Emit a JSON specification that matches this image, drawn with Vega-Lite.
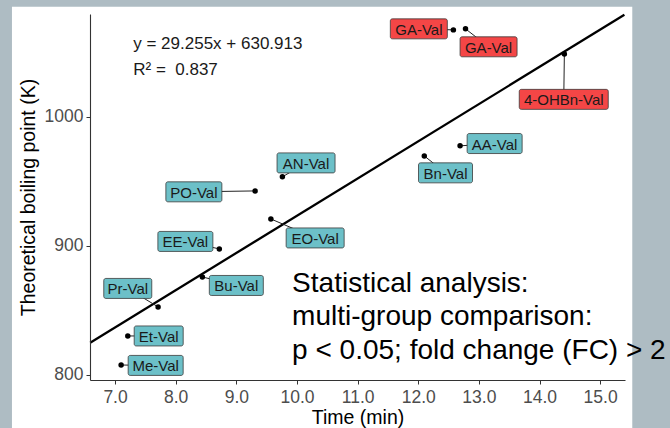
{
  "$schema": "https://vega.github.io/schema/vega-lite/v6.json",
  "width": 535,
  "height": 366,
  "autosize": {"type": "none"},
  "padding": {"left": 90, "top": 14, "right": 45, "bottom": 48},
  "background": "#aebcc3",
  "config": {
    "font": "Liberation Sans",
    "view": {"stroke": null},
    "axis": {
      "grid": false,
      "domainColor": "#333333",
      "domainWidth": 1.1,
      "tickColor": "#333333",
      "tickSize": 4,
      "labelColor": "#4d4d4d",
      "labelFontSize": 17.5,
      "labelFont": "Liberation Sans",
      "titleFont": "Liberation Sans",
      "titleFontSize": 19.5,
      "titleFontWeight": "normal",
      "titleColor": "#000000"
    }
  },
  "data": {
    "values": [
      {"label": "GA-Val", "highlight": "yes", "x": 12.58, "y": 1067.2, "lx": 12.01, "ly": 1068.0},
      {"label": "GA-Val", "highlight": "yes", "x": 12.78, "y": 1068.0, "lx": 13.16, "ly": 1054.1},
      {"label": "4-OHBn-Val", "highlight": "yes", "x": 14.41, "y": 1048.6, "lx": 14.40, "ly": 1013.4},
      {"label": "AA-Val", "highlight": "no", "x": 12.69, "y": 977.4, "lx": 13.26, "ly": 979.2},
      {"label": "Bn-Val", "highlight": "no", "x": 12.10, "y": 969.6, "lx": 12.45, "ly": 956.5},
      {"label": "AN-Val", "highlight": "no", "x": 9.76, "y": 953.4, "lx": 10.15, "ly": 964.2},
      {"label": "PO-Val", "highlight": "no", "x": 9.31, "y": 942.5, "lx": 8.30, "ly": 941.8},
      {"label": "EO-Val", "highlight": "no", "x": 9.57, "y": 920.8, "lx": 10.30, "ly": 906.1},
      {"label": "EE-Val", "highlight": "no", "x": 8.72, "y": 897.6, "lx": 8.16, "ly": 903.4},
      {"label": "Bu-Val", "highlight": "no", "x": 8.44, "y": 875.9, "lx": 9.00, "ly": 869.3},
      {"label": "Pr-Val", "highlight": "no", "x": 7.71, "y": 852.7, "lx": 7.21, "ly": 867.0},
      {"label": "Et-Val", "highlight": "no", "x": 7.21, "y": 830.2, "lx": 7.72, "ly": 830.2},
      {"label": "Me-Val", "highlight": "no", "x": 7.10, "y": 807.7, "lx": 7.67, "ly": 807.4}
    ]
  },
  "layer": [
    {
      "data": {"values": [{}]},
      "mark": {"type": "rect", "fill": "#ffffff"},
      "encoding": {
        "x": {"datum": 5.30, "type": "quantitative", "scale": {"domain": [6.587, 15.41], "nice": false, "zero": false}},
        "x2": {"datum": 15.53},
        "y": {"datum": 1085.1, "type": "quantitative", "scale": {"domain": [796.1, 1079.5], "nice": false, "zero": false}},
        "y2": {"datum": 758.9}
      }
    },
    {
      "data": {"values": [{"x": 6.59, "y": 825.0}, {"x": 15.40, "y": 1078.9}]},
      "mark": {"type": "line", "color": "#000000", "strokeWidth": 2.3},
      "encoding": {
        "x": {"field": "x", "type": "quantitative", "scale": {"domain": [6.587, 15.41], "nice": false, "zero": false},
          "axis": {"zindex": 2, "values": [7, 8, 9, 10, 11, 12, 13, 14, 15], "format": ".1f", "title": "Time (min)", "labelPadding": 4, "titlePadding": 3}},
        "y": {"field": "y", "type": "quantitative", "scale": {"domain": [796.1, 1079.5], "nice": false, "zero": false},
          "axis": {"zindex": 2, "values": [800, 900, 1000], "format": "d", "title": "Theoretical boiling point (K)", "labelPadding": 3, "titlePadding": 6}}
      }
    },
    {
      "mark": {"type": "rule", "color": "#222222", "strokeWidth": 1},
      "encoding": {
        "x": {"field": "x", "type": "quantitative"},
        "y": {"field": "y", "type": "quantitative"},
        "x2": {"field": "lx"},
        "y2": {"field": "ly"}
      }
    },
    {
      "mark": {"type": "point", "filled": true, "color": "#000000", "opacity": 1, "size": 30},
      "encoding": {
        "x": {"field": "x", "type": "quantitative"},
        "y": {"field": "y", "type": "quantitative"}
      }
    },
    {
      "mark": {"type": "point", "filled": true, "opacity": 1, "size": 4, "stroke": "#3a3a3a", "strokeWidth": 0.8},
      "encoding": {
        "x": {"field": "lx", "type": "quantitative"},
        "y": {"field": "ly", "type": "quantitative"},
        "color": {"field": "highlight", "type": "nominal", "scale": {"domain": ["yes", "no"], "range": ["#f44646", "#6cc0c8"]}, "legend": null},
        "shape": {"field": "label", "type": "nominal", "legend": null,
          "scale": {
            "domain": ["GA-Val", "4-OHBn-Val", "AA-Val", "Bn-Val", "AN-Val", "PO-Val", "EO-Val", "EE-Val", "Bu-Val", "Pr-Val", "Et-Val", "Me-Val"],
            "range": [
              "M-26.5,-10H26.5A2,2,0,0,1,28.5,-8V8A2,2,0,0,1,26.5,10H-26.5A2,2,0,0,1,-28.5,8V-8A2,2,0,0,1,-26.5,-10Z",
              "M-42.5,-10H42.5A2,2,0,0,1,44.5,-8V8A2,2,0,0,1,42.5,10H-42.5A2,2,0,0,1,-44.5,8V-8A2,2,0,0,1,-42.5,-10Z",
              "M-25.5,-10H25.5A2,2,0,0,1,27.5,-8V8A2,2,0,0,1,25.5,10H-25.5A2,2,0,0,1,-27.5,8V-8A2,2,0,0,1,-25.5,-10Z",
              "M-25,-10H25A2,2,0,0,1,27,-8V8A2,2,0,0,1,25,10H-25A2,2,0,0,1,-27,8V-8A2,2,0,0,1,-25,-10Z",
              "M-27,-10H27A2,2,0,0,1,29,-8V8A2,2,0,0,1,27,10H-27A2,2,0,0,1,-29,8V-8A2,2,0,0,1,-27,-10Z",
              "M-26,-10H26A2,2,0,0,1,28,-8V8A2,2,0,0,1,26,10H-26A2,2,0,0,1,-28,8V-8A2,2,0,0,1,-26,-10Z",
              "M-27,-10H27A2,2,0,0,1,29,-8V8A2,2,0,0,1,27,10H-27A2,2,0,0,1,-29,8V-8A2,2,0,0,1,-27,-10Z",
              "M-25.5,-10H25.5A2,2,0,0,1,27.5,-8V8A2,2,0,0,1,25.5,10H-25.5A2,2,0,0,1,-27.5,8V-8A2,2,0,0,1,-25.5,-10Z",
              "M-25,-10H25A2,2,0,0,1,27,-8V8A2,2,0,0,1,25,10H-25A2,2,0,0,1,-27,8V-8A2,2,0,0,1,-25,-10Z",
              "M-22,-10H22A2,2,0,0,1,24,-8V8A2,2,0,0,1,22,10H-22A2,2,0,0,1,-24,8V-8A2,2,0,0,1,-22,-10Z",
              "M-22.5,-10H22.5A2,2,0,0,1,24.5,-8V8A2,2,0,0,1,22.5,10H-22.5A2,2,0,0,1,-24.5,8V-8A2,2,0,0,1,-22.5,-10Z",
              "M-25.5,-10H25.5A2,2,0,0,1,27.5,-8V8A2,2,0,0,1,25.5,10H-25.5A2,2,0,0,1,-27.5,8V-8A2,2,0,0,1,-25.5,-10Z"
            ]
          }
        }
      }
    },
    {
      "mark": {"type": "text", "fontSize": 15, "color": "#1a1a1a", "align": "center", "baseline": "middle", "dy": 1},
      "encoding": {
        "x": {"field": "lx", "type": "quantitative"},
        "y": {"field": "ly", "type": "quantitative"},
        "text": {"field": "label", "type": "nominal"}
      }
    },
    {
      "data": {"values": [{}]},
      "mark": {"type": "text", "fontSize": 17, "color": "#1a1a1a", "align": "left", "baseline": "alphabetic", "lineHeight": 25.5},
      "encoding": {
        "x": {"datum": 7.30, "type": "quantitative"},
        "y": {"datum": 1052.1, "type": "quantitative"},
        "text": {"value": ["y = 29.255x + 630.913", "R² = \u00a00.837"]}
      }
    },
    {
      "data": {"values": [{}]},
      "mark": {"type": "text", "fontSize": 28, "color": "#000000", "align": "left", "baseline": "alphabetic", "lineHeight": 33.3},
      "encoding": {
        "x": {"datum": 9.92, "type": "quantitative"},
        "y": {"datum": 864.3, "type": "quantitative"},
        "text": {"value": ["Statistical analysis:", "multi-group comparison:", "p < 0.05; fold change (FC) > 2"]}
      }
    }
  ]
}
